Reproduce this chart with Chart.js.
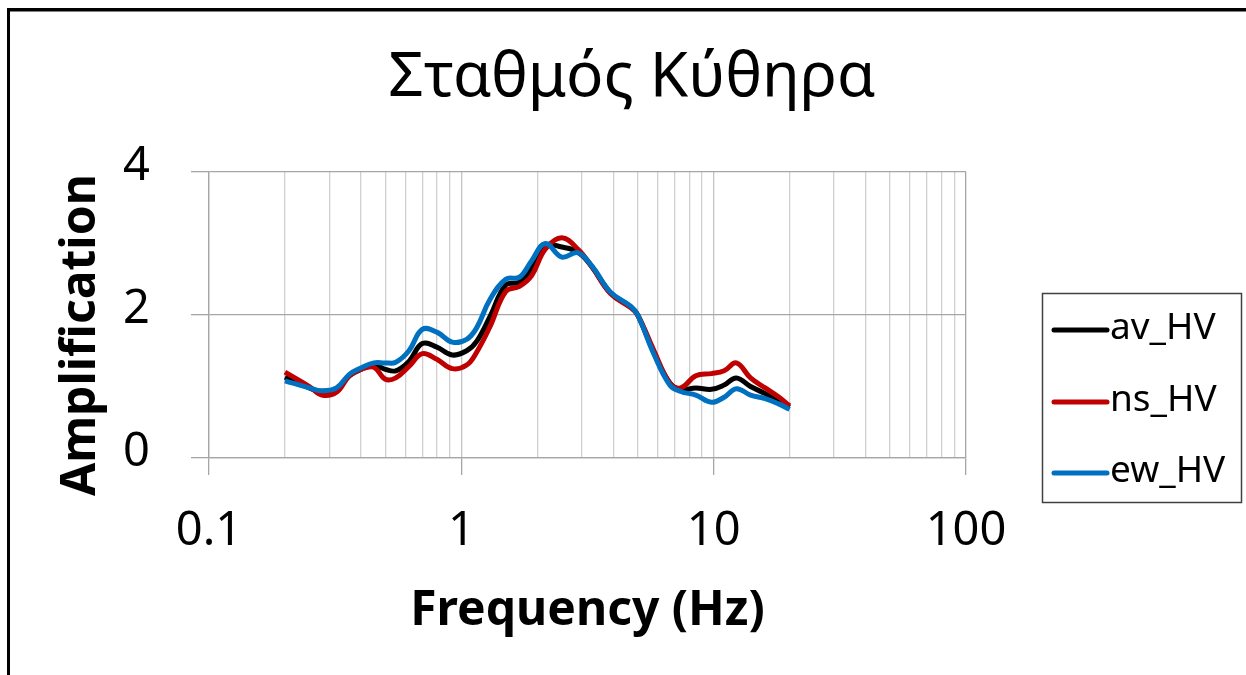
<!DOCTYPE html>
<html><head><meta charset="utf-8">
<script src="https://cdn.jsdelivr.net/npm/chart.js@4.4.1/dist/chart.umd.min.js"></script>
<style>html,body{margin:0;padding:0;background:#fff;} #wrap{position:relative;width:1246px;height:675px;}</style>
</head><body><div id="wrap"><canvas id="c" width="1246" height="675"></canvas></div>
<script>
const frequency = [0.2,0.25,0.28,0.32,0.36,0.40,0.45,0.50,0.55,0.62,0.70,0.80,0.92,1.05,1.15,1.3,1.5,1.7,1.9,2.15,2.5,2.9,3.3,3.9,4.7,5.0,5.8,6.7,7.4,8.5,9.8,11,12.3,14,16,18,20];
const avHV = [1.13,0.98,0.92,0.96,1.15,1.24,1.30,1.24,1.22,1.35,1.60,1.55,1.44,1.50,1.63,1.98,2.42,2.46,2.65,2.97,2.95,2.88,2.67,2.31,2.11,2.00,1.47,1.05,0.96,0.98,0.96,1.02,1.12,1.00,0.90,0.80,0.71];
const nsHV = [1.20,1.00,0.88,0.92,1.15,1.24,1.27,1.10,1.12,1.28,1.46,1.38,1.25,1.30,1.48,1.84,2.33,2.40,2.55,2.92,3.08,2.92,2.67,2.30,2.10,2.00,1.50,1.05,0.98,1.15,1.18,1.22,1.33,1.12,0.98,0.86,0.73];
const ewHV = [1.08,0.98,0.94,0.98,1.17,1.26,1.33,1.33,1.34,1.50,1.80,1.76,1.62,1.66,1.82,2.22,2.50,2.53,2.76,3.00,2.81,2.87,2.68,2.32,2.12,2.00,1.45,1.02,0.93,0.88,0.78,0.85,0.97,0.88,0.83,0.76,0.68];
const seriesNames = ['av_HV','ns_HV','ew_HV'];
const seriesColors = ['#000000','#c00000','#0070c0'];
const xTickValues = [0.1,0.2,0.3,0.4,0.5,0.6,0.7,0.8,0.9,1,2,3,4,5,6,7,8,9,10,20,30,40,50,60,70,80,90,100];
const xMajorValues = [0.1,1,10,100];
const xMajorLabels = ['0.1','1','10','100'];
const yTickValues = [0,2,4];
const yTickLabels = ['0','2','4'];
const chartTitle = 'Σταθμός Κύθηρα';
const xTitle = 'Frequency (Hz)';
const yTitle = 'Amplification';

const FONT = "'Noto Sans', 'DejaVu Sans', sans-serif";
const isMajor = v => xMajorValues.some(m => Math.abs(m - v) < 1e-9);
const majorLabel = v => { const i = xMajorValues.findIndex(m => Math.abs(m - v) < 1e-9); return i >= 0 ? xMajorLabels[i] : ''; };

const series = [avHV, nsHV, ewHV];
const datasets = series.map((vals, i) => ({
  label: seriesNames[i],
  data: frequency.map((f, j) => ({x: f, y: vals[j]})),
  borderColor: seriesColors[i],
  backgroundColor: seriesColors[i],
  borderWidth: 5,
  pointRadius: 0,
  tension: 0.4,
  fill: false,
  order: 3 - i
}));

const framePlugin = {
  id: 'frame',
  beforeDraw(chart) {
    const ctx = chart.ctx;
    ctx.save();
    ctx.fillStyle = '#ffffff';
    ctx.fillRect(0, 0, chart.width, chart.height);
    ctx.restore();
  },
  afterDraw(chart) {
    const ctx = chart.ctx;
    ctx.save();
    ctx.strokeStyle = '#000000';
    ctx.lineWidth = 3;
    ctx.beginPath();
    ctx.moveTo(8.5, 675); ctx.lineTo(8.5, 9.5); ctx.lineTo(1246, 9.5);
    ctx.stroke();
    ctx.strokeStyle = '#808080';
    ctx.lineWidth = 1;
    ctx.beginPath();
    ctx.moveTo(10, 11.5); ctx.lineTo(1246, 11.5);
    ctx.stroke();
    // chart title
    ctx.fillStyle = '#000000';
    ctx.font = "62px " + FONT;
    ctx.textAlign = 'center';
    ctx.textBaseline = 'alphabetic';
    ctx.fillText(chartTitle, 632, 96);
    // y axis title
    ctx.translate(81, 335);
    ctx.rotate(-Math.PI / 2);
    ctx.font = "bold 48px " + FONT;
    ctx.textBaseline = 'middle';
    ctx.fillText(yTitle, 0, 0);
    ctx.restore();
  }
};

const legendPlugin = {
  id: 'boxLegend',
  afterDraw(chart) {
    const ctx = chart.ctx;
    ctx.save();
    ctx.strokeStyle = '#404040';
    ctx.lineWidth = 1.5;
    ctx.strokeRect(1042.5, 293.5, 199, 209);
    const rows = [330, 402, 473];
    chart.data.datasets.forEach((ds, i) => {
      const y = rows[i];
      ctx.strokeStyle = ds.borderColor;
      ctx.lineWidth = 5;
      ctx.lineCap = 'round';
      ctx.beginPath();
      ctx.moveTo(1054, y); ctx.lineTo(1107, y);
      ctx.stroke();
      ctx.fillStyle = '#000000';
      ctx.font = "37px " + FONT;
      ctx.textBaseline = 'middle';
      ctx.textAlign = 'left';
      ctx.fillText(ds.label, 1110, y - 2);
    });
    ctx.restore();
  }
};

new Chart(document.getElementById('c'), {
  type: 'line',
  data: { datasets },
  plugins: [framePlugin, legendPlugin],
  options: {
    responsive: false,
    animation: false,
    devicePixelRatio: 1,
    layout: { padding: { top: 172, right: 280, bottom: 0, left: 0 } },
    plugins: {
      legend: { display: false },
      tooltip: { enabled: false },
      title: { display: false }
    },
    scales: {
      x: {
        type: 'logarithmic',
        min: 0.1, max: 100,
        afterBuildTicks: s => { s.ticks = xTickValues.map(v => ({value: v, major: isMajor(v)})); },
        afterFit: s => { s.height = 675 - 458; },
        ticks: {
          autoSkip: false, maxRotation: 0, minRotation: 0,
          padding: 28,
          color: '#000000',
          font: { family: FONT, size: 47 },
          callback: v => majorLabel(v)
        },
        grid: {
          color: c => (c.tick && Math.abs(c.tick.value - 100) < 1e-9) ? '#a6a6a6' : (c.tick && isMajor(c.tick.value) ? '#c4c4c4' : '#d0d0d0'),
          lineWidth: 1.3,
          tickLength: 17,
          tickColor: c => (c.tick && isMajor(c.tick.value)) ? '#a6a6a6' : 'rgba(0,0,0,0)'
        },
        border: { display: true, color: '#a6a6a6', width: 1.3 },
        title: {
          display: true, text: xTitle, color: '#000000',
          font: { family: FONT, size: 48, weight: 'bold', lineHeight: 1.2 },
          padding: { top: 0, bottom: 35 }
        }
      },
      y: {
        type: 'linear',
        min: 0, max: 4,
        afterBuildTicks: s => { s.ticks = yTickValues.map(v => ({value: v})); },
        afterFit: s => { s.width = 209; },
        ticks: {
          padding: 41,
          labelOffset: -5,
          color: '#000000',
          font: { family: FONT, size: 47 },
          callback: v => { const i = yTickValues.indexOf(v); return i >= 0 ? yTickLabels[i] : ''; }
        },
        grid: { color: '#a6a6a6', lineWidth: 1.3, tickLength: 18, tickColor: '#a6a6a6' },
        border: { display: true, color: '#a6a6a6', width: 1.3 },
        title: { display: false }
      }
    }
  }
});
</script></body></html>
